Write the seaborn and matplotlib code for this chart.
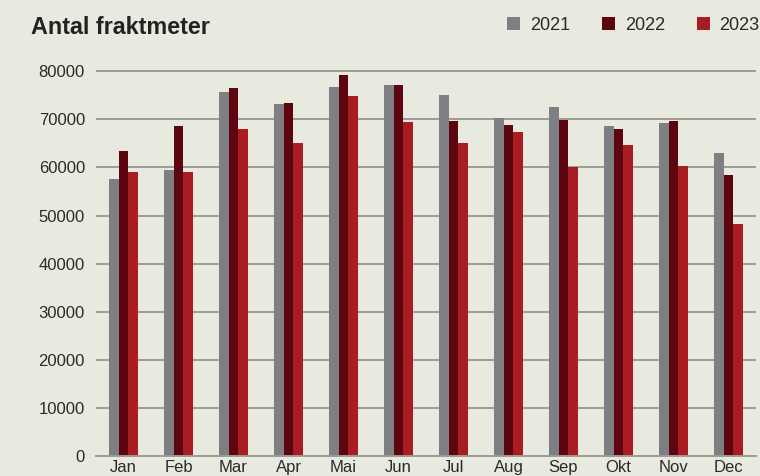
import numpy as np
import pandas as pd
import matplotlib
matplotlib.use("Agg")
import matplotlib.pyplot as plt
import seaborn as sns

# data
months = ["Jan", "Feb", "Mar", "Apr", "Mai", "Jun", "Jul", "Aug", "Sep", "Okt", "Nov", "Dec"]
years = ["2021", "2022", "2023"]
v2021 = [57600, 59500, 75700, 73200, 76700, 77100, 75000, 70300, 72600, 68600, 69200, 63000]
v2022 = [63400, 68600, 76500, 73400, 79200, 77100, 69600, 68800, 69900, 68000, 69600, 58400]
v2023 = [59000, 59000, 68000, 65100, 74800, 69400, 65100, 67400, 60100, 64700, 60300, 48200]
yticks = [0, 10000, 20000, 30000, 40000, 50000, 60000, 70000, 80000]

colors = ["#7d7f82", "#5e0610", "#a91c22"]
bg = "#e9eadf"

df = pd.DataFrame({
    "month": months * 3,
    "year": [y for y in years for _ in months],
    "value": v2021 + v2022 + v2023,
})

sns.set_theme(style="white")
plt.rcParams["font.family"] = ["Liberation Sans", "DejaVu Sans"]

fig = plt.figure(figsize=(7.6, 4.76), dpi=100, facecolor=bg)
ax = fig.add_axes([96 / 760, 1 - 456 / 476, 660 / 760, (456 - 61.6) / 476])
ax.set_facecolor(bg)

sns.barplot(data=df, x="month", y="value", hue="year", palette=colors,
            width=0.54, gap=0, saturation=1, linewidth=0, ax=ax, legend=True)

ax.set_ylim(0, 82000)
ax.set_xlim(-0.5, 11.5)
ax.set_yticks(yticks)
ax.set_yticklabels([str(t) for t in yticks])
ax.yaxis.grid(True, color="#9c9c96", linewidth=1.4)
ax.set_axisbelow(True)
for s in ["top", "right", "left"]:
    ax.spines[s].set_visible(False)
ax.spines["bottom"].set_color("#9c9c96")
ax.spines["bottom"].set_linewidth(1.4)
ax.tick_params(axis="both", length=0, labelsize=12, colors="#2a2a2a")
ax.tick_params(axis="x", pad=3)
ax.tick_params(axis="y", pad=8)
ax.set_xlabel("")
ax.set_ylabel("")

fig.text(31 / 760, 1 - 27 / 476, "Antal fraktmeter", fontsize=16.8, fontweight="bold",
         color="#222222", va="center", ha="left")

ax.legend(loc="center left", bbox_to_anchor=(491 / 760, 1 - 25 / 476),
          bbox_transform=fig.transFigure, ncol=3, frameon=False,
          handlelength=0.72, handleheight=0.72, handletextpad=0.55,
          columnspacing=1.75, fontsize=13, labelcolor="#2a2a2a")

fig.savefig("out.png", dpi=100, facecolor=bg)
